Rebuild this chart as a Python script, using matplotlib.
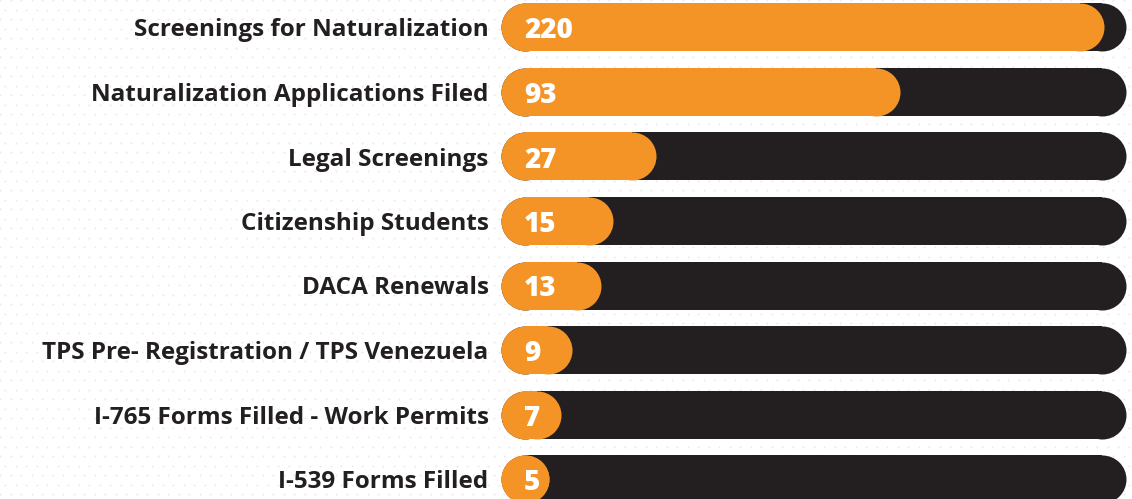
import matplotlib.pyplot as plt
import numpy as np

categories = ["Screenings for Naturalization", "Naturalization Applications Filed",
              "Legal Screenings", "Citizenship Students", "DACA Renewals",
              "TPS Pre- Registration / TPS Venezuela", "I-765 Forms Filled - Work Permits",
              "I-539 Forms Filled"]
values = [220, 93, 27, 15, 13, 9, 7, 5]
# orange fill length as a share of the full track
fill = [0.965, 0.638, 0.248, 0.179, 0.160, 0.114, 0.096, 0.077]

ORANGE = "#f59426"
DARK = "#231f20"
W, H = 1132, 499

fig = plt.figure(figsize=(W / 100, H / 100), dpi=100)
fig.patch.set_facecolor("white")

# faint dotted backdrop
bg = fig.add_axes([0, 0, 1, 1])
bg.set_xlim(0, W)
bg.set_ylim(H, 0)
bg.axis("off")
gx, gy = np.meshgrid(np.arange(0, W + 10, 10.5), np.arange(0, H + 10, 9.5))
gx = gx + (np.arange(gx.shape[0])[:, None] % 2) * 5.2
bg.scatter(gx.ravel(), gy.ravel(), s=2.2, color="#ebebeb", linewidths=0, zorder=0)

left_px, right_px = 501, 1126
ax = fig.add_axes([left_px / W, 0, (right_px - left_px) / W, 1])
ax.patch.set_alpha(0)
row0, step = 27.5, 64.5
ax.set_ylim((H - row0) / step, -row0 / step)
ax.set_xlim(0, 1)

bar_px = 48
lw = bar_px * 72 / 100
r = (bar_px / 2) / (right_px - left_px)


def pill(x1, y, color, z):
    # straight body plus round end caps drawn as markers
    ax.plot([r, x1 - r], [y, y], color=color, lw=lw, solid_capstyle="butt",
            marker="o", markersize=lw, markeredgewidth=0, zorder=z)


for i, (v, f) in enumerate(zip(values, fill)):
    pill(1, i, DARK, 2)
    pill(f, i, ORANGE, 3)
    ax.text(23 / (right_px - left_px), i, str(v), color="white", fontsize=20,
            fontweight="heavy", family="Open Sans", va="center_baseline", ha="left", zorder=4)

ax.set_yticks(range(len(categories)))
ax.set_yticklabels(categories, fontsize=17.5, fontweight="bold", family="Open Sans", color=DARK)
ax.tick_params(axis="y", length=0, pad=9)
ax.set_xticks([])
for s in ax.spines.values():
    s.set_visible(False)

fig.savefig("out.png", dpi=100, facecolor="white")
